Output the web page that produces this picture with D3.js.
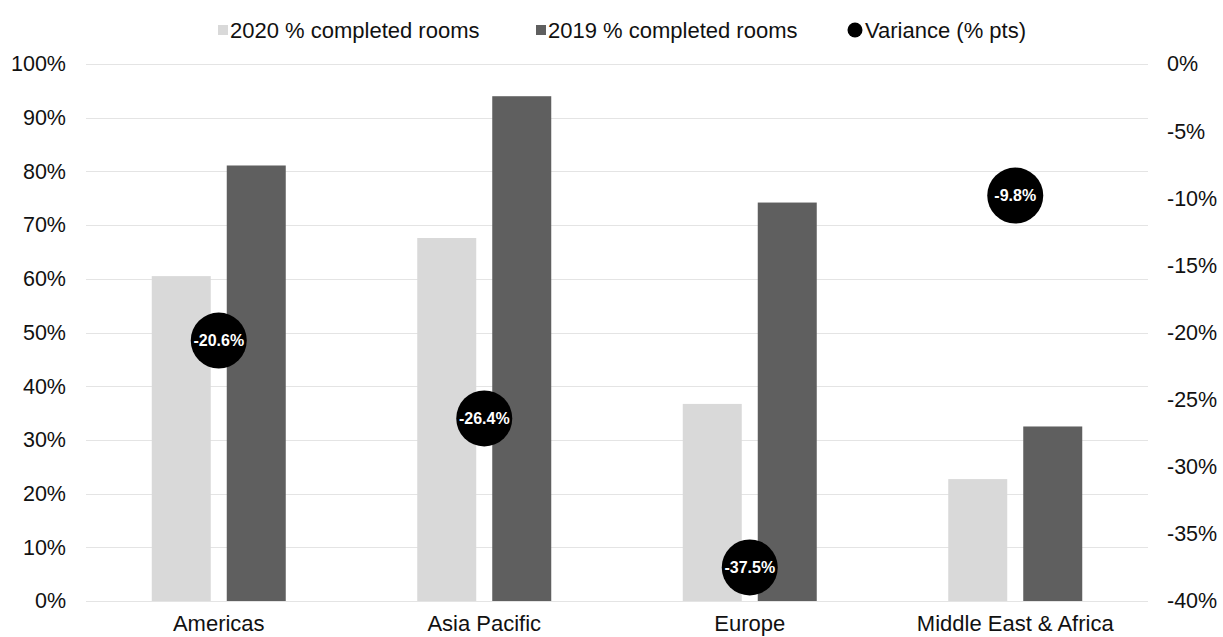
<!DOCTYPE html>
<html>
<head>
<meta charset="utf-8">
<script src="https://cdn.jsdelivr.net/npm/d3@7/dist/d3.min.js"></script>
<style>
  html, body { margin: 0; padding: 0; background: #ffffff; }
  svg { display: block; font-family: "Liberation Sans", Arial, Helvetica, sans-serif; }
</style>
</head>
<body>
<svg id="chart" width="1223" height="637"></svg>
<script>
// Regions and their share of completed rooms
const regions = ["Americas", "Asia Pacific", "Europe", "Middle East & Africa"];
const completed2020 = [0.605, 0.676, 0.367, 0.227];
const completed2019 = [0.811, 0.940, 0.742, 0.325];
const variance = [-0.206, -0.264, -0.375, -0.098];
const varianceLabels = ["-20.6%", "-26.4%", "-37.5%", "-9.8%"];

const seriesNames = ["2020 % completed rooms", "2019 % completed rooms"];
const varianceName = "Variance (% pts)";
const leftTicks = [0, 0.1, 0.2, 0.3, 0.4, 0.5, 0.6, 0.7, 0.8, 0.9, 1.0];
const rightTicks = [0, -0.05, -0.10, -0.15, -0.20, -0.25, -0.30, -0.35, -0.40];

const colors = { light: "#d9d9d9", dark: "#5f5f5f", grid: "#e4e4e4", text: "#111111" };

// Percent labels with a plain hyphen for negatives
const pct = d => String(Math.round(d * 100)) + "%";

const svg = d3.select("#chart");
const plot = { left: 86, right: 1148, top: 64, bottom: 601 };

const x0 = d3.scaleBand().domain(regions).range([plot.left, plot.right]).padding(0);
const x1 = d3.scaleBand().domain(seriesNames).range([-67, 67]).paddingInner(16 / 75).paddingOuter(0);
const yLeft = d3.scaleLinear().domain([0, 1]).range([plot.bottom, plot.top]);
const yRight = d3.scaleLinear().domain([-0.4, 0]).range([plot.bottom, plot.top]);

// Horizontal gridlines
svg.append("g")
  .selectAll("line")
  .data(leftTicks)
  .join("line")
  .attr("x1", plot.left).attr("x2", plot.right)
  .attr("y1", d => Math.round(yLeft(d)) + 0.5)
  .attr("y2", d => Math.round(yLeft(d)) + 0.5)
  .attr("stroke", colors.grid)
  .attr("stroke-width", 1.2);

// Left axis
const leftAxis = d3.axisLeft(yLeft).tickValues(leftTicks).tickFormat(pct).tickSize(0).tickPadding(0);
const gl = svg.append("g").attr("transform", `translate(${plot.left - 20},0)`).call(leftAxis);
gl.select(".domain").remove();
gl.selectAll("text").attr("font-size", 21.5).attr("fill", colors.text).attr("font-family", "Liberation Sans, Arial, sans-serif");

// Right axis
const rightAxis = d3.axisRight(yRight).tickValues(rightTicks).tickFormat(pct).tickSize(0).tickPadding(0);
const gr = svg.append("g").attr("transform", `translate(${plot.right + 19},0)`).call(rightAxis);
gr.select(".domain").remove();
gr.selectAll("text").attr("font-size", 21.5).attr("fill", colors.text).attr("font-family", "Liberation Sans, Arial, sans-serif");

// Category axis
const bottomAxis = d3.axisBottom(x0).tickSize(0).tickPadding(0);
const gb = svg.append("g").attr("transform", `translate(0,${plot.bottom})`).call(bottomAxis);
gb.select(".domain").remove();
gb.selectAll("text").attr("font-size", 22).attr("fill", colors.text).attr("dy", null).attr("y", 30)
  .attr("font-family", "Liberation Sans, Arial, sans-serif");

// Bars
const rows = regions.map((r, i) => ({ region: r, values: [completed2020[i], completed2019[i]] }));
const barFill = [colors.light, colors.dark];
svg.append("g")
  .selectAll("g")
  .data(rows)
  .join("g")
  .attr("transform", d => `translate(${x0(d.region) + x0.bandwidth() / 2},0)`)
  .selectAll("rect")
  .data(d => d.values.map((v, j) => ({ key: seriesNames[j], value: v, j })))
  .join("rect")
  .attr("x", d => x1(d.key))
  .attr("width", x1.bandwidth())
  .attr("y", d => yLeft(d.value))
  .attr("height", d => yLeft(0) - yLeft(d.value))
  .attr("fill", d => barFill[d.j]);

// Variance markers
const marks = svg.append("g")
  .selectAll("g")
  .data(regions.map((r, i) => ({ region: r, v: variance[i], label: varianceLabels[i] })))
  .join("g")
  .attr("transform", d => `translate(${x0(d.region) + x0.bandwidth() / 2},${yRight(d.v)})`);
marks.append("circle").attr("r", 28).attr("fill", "#000000");
marks.append("text")
  .text(d => d.label)
  .attr("text-anchor", "middle")
  .attr("dy", "0.36em")
  .attr("fill", "#ffffff")
  .attr("font-weight", "bold")
  .attr("font-size", 16);

// Legend
const legend = svg.append("g").attr("font-size", 22).attr("fill", colors.text);
const legendItems = [
  { name: seriesNames[0], shape: "rect", color: colors.light, x: 218 },
  { name: seriesNames[1], shape: "rect", color: colors.dark, x: 536 },
  { name: varianceName, shape: "circle", color: "#000000", x: 848 }
];
legendItems.forEach(it => {
  if (it.shape === "rect") {
    legend.append("rect").attr("x", it.x).attr("y", 25).attr("width", 10).attr("height", 10).attr("fill", it.color);
    legend.append("text").attr("x", it.x + 12).attr("y", 38).text(it.name);
  } else {
    legend.append("circle").attr("cx", it.x + 7).attr("cy", 30).attr("r", 7.5).attr("fill", it.color);
    legend.append("text").attr("x", it.x + 17).attr("y", 38).text(it.name);
  }
});
</script>
</body>
</html>
